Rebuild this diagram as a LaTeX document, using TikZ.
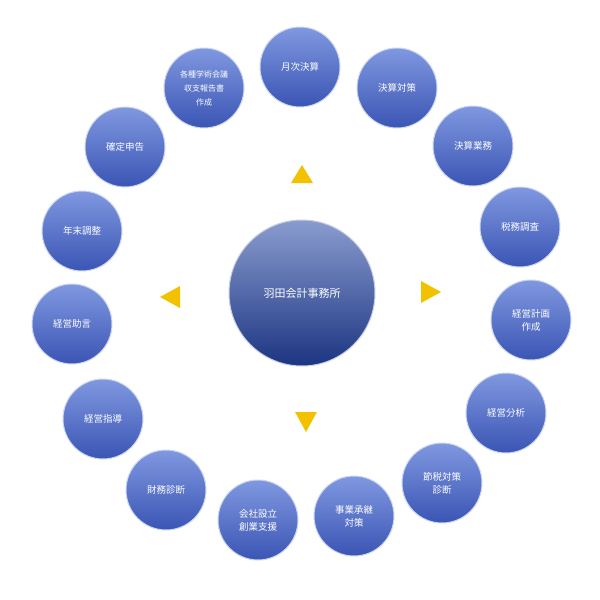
\documentclass[tikz,border=0pt]{standalone}
\usepackage{fontspec}
\newfontfamily\jpfont{Noto Sans CJK JP}
\definecolor{ballhi}{HTML}{8098E0}
\definecolor{balllo}{HTML}{3A55B4}
\definecolor{hubhi}{HTML}{8A9CCE}
\definecolor{hublo}{HTML}{1C3582}
\definecolor{arrowgold}{HTML}{F2C200}
\tikzset{
  ball/.style={circle, minimum size=80pt, inner sep=0pt, top color=ballhi, bottom color=balllo,
    draw=ballhi!40, line width=1pt, text=white, align=center, font=\jpfont\fontsize{9.5}{13}\selectfont},
  hub/.style={circle, minimum size=146pt, inner sep=0pt, top color=hubhi, bottom color=hublo,
    draw=hubhi!50, line width=1pt, text=white, font=\jpfont\fontsize{11}{14}\selectfont},
  tri/.style={fill=arrowgold}
}
\begin{document}
\begin{tikzpicture}[x=1pt,y=-1pt]
  \useasboundingbox (0,0) rectangle (600,600);

  \node[hub] (hub) at (302,293) {羽田会計事務所};

  \node[ball] (getsuji) at (300,67) {月次決算};
  \node[ball] (taisaku) at (397,88) {決算対策};
  \node[ball] (gyomu) at (473,146) {決算業務};
  \node[ball] (chosa) at (520,227) {税務調査};
  \node[ball] (keikaku) at (531,320) {経営計画\\作成};
  \node[ball] (bunseki) at (506,413) {経営分析};
  \node[ball] (setsuzei) at (442,483) {節税対策\\診断};
  \node[ball] (shokei) at (354,516) {事業承継\\対策};
  \node[ball] (setsuritsu) at (258,520) {会社設立\\創業支援};
  \node[ball] (zaimu) at (166,490) {財務診断};
  \node[ball] (shido) at (103,419) {経営指導};
  \node[ball] (jogen) at (72,324) {経営助言};
  \node[ball] (nenmatsu) at (82,231) {年末調整};
  \node[ball] (shinkoku) at (125,147) {確定申告};
  \node[ball, font=\jpfont\fontsize{8}{14}\selectfont] (gakujutsu) at (204,88) {各種学術会議\\収支報告書\\作成};

  % arrowheads round the hub
  \fill[tri] (302,165) -- (313,183) -- (291,183) -- cycle;
  \fill[tri] (441,292) -- (421,281) -- (421,303) -- cycle;
  \fill[tri] (306,432) -- (295,412) -- (317,412) -- cycle;
  \fill[tri] (160,297) -- (180,286) -- (180,308) -- cycle;
\end{tikzpicture}
\end{document}
